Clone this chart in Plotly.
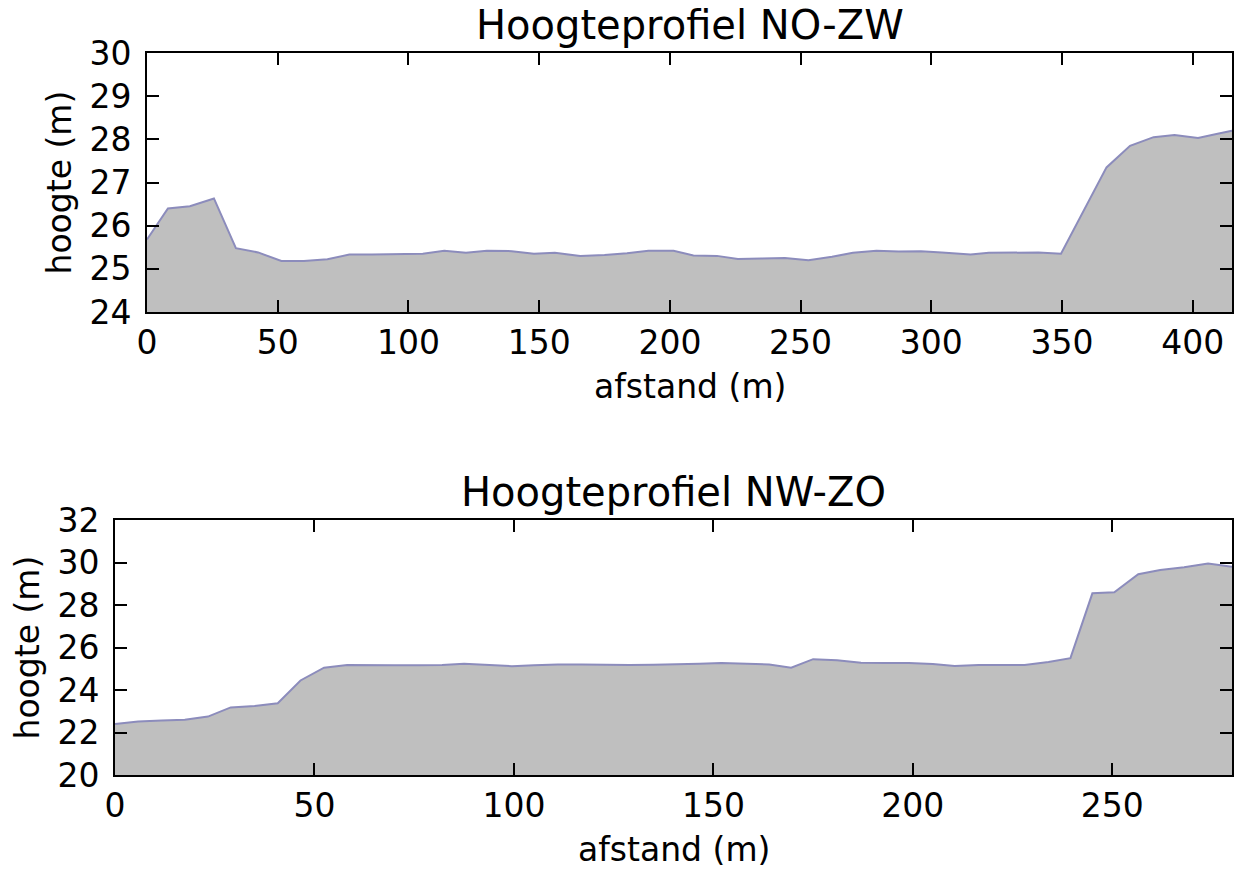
import plotly.graph_objects as go

# Profile NO-ZW (top)
afstand_nozw = [0, 8, 16.4, 25.6, 34, 42.5, 51.4, 60, 69, 77.4, 86, 95, 105.5, 113.7, 122, 130,
                139.5, 148, 156, 165.7, 175, 183.6, 191.8, 201.4, 209, 218, 226, 235, 244, 253,
                262, 270, 279, 287.5, 296, 304, 315, 322, 331, 341, 349.6, 358, 367, 376, 385,
                393, 402, 409.5, 415]
hoogte_nozw = [25.68, 26.4, 26.45, 26.63, 25.48, 25.38, 25.18, 25.18, 25.22, 25.33, 25.33, 25.34,
               25.35, 25.42, 25.37, 25.42, 25.41, 25.35, 25.37, 25.3, 25.32, 25.36, 25.42, 25.42,
               25.31, 25.3, 25.23, 25.24, 25.25, 25.2, 25.28, 25.37, 25.42, 25.4, 25.41, 25.38,
               25.33, 25.37, 25.38, 25.38, 25.35, 26.3, 27.35, 27.85, 28.05, 28.1, 28.03, 28.13, 28.2]

# Profile NW-ZO (bottom)
afstand_nwzo = [0, 5.8, 11.7, 17.5, 23.3, 29, 35, 40.8, 46.5, 52.4, 58.2, 64, 70, 76, 82, 87.5,
                93.5, 99.5, 105, 111, 117, 123, 129, 135, 141, 146.5, 152, 158, 164, 169.5, 175,
                181, 187, 193, 199, 205, 210.5, 216.5, 222, 228, 234, 239.5, 245, 250.5, 256.5,
                262, 268, 274, 280]
hoogte_nwzo = [22.4, 22.52, 22.56, 22.6, 22.75, 23.18, 23.25, 23.38, 24.45, 25.05, 25.18, 25.16,
               25.16, 25.17, 25.18, 25.24, 25.18, 25.12, 25.16, 25.2, 25.2, 25.18, 25.18, 25.19,
               25.2, 25.24, 25.27, 25.22, 25.2, 25.05, 25.45, 25.4, 25.28, 25.27, 25.27, 25.22,
               25.13, 25.18, 25.18, 25.18, 25.32, 25.5, 28.55, 28.6, 29.45, 29.65, 29.78, 29.95, 29.8]

titels = ["Hoogteprofiel NO-ZW", "Hoogteprofiel NW-ZO"]
x_label = "afstand (m)"
y_label = "hoogte (m)"

W, H = 1239, 869
FONT = "DejaVu Sans"
FILL = "#bfbfbf"
EDGE = "#8c8cbc"

fig = go.Figure()
fig.add_trace(go.Scatter(x=afstand_nozw, y=hoogte_nozw, mode="lines", fill="tozeroy",
                         fillcolor=FILL, line=dict(color=EDGE, width=2),
                         xaxis="x", yaxis="y", showlegend=False, hoverinfo="skip"))
fig.add_trace(go.Scatter(x=afstand_nwzo, y=hoogte_nwzo, mode="lines", fill="tozeroy",
                         fillcolor=FILL, line=dict(color=EDGE, width=2),
                         xaxis="x2", yaxis="y2", showlegend=False, hoverinfo="skip"))

def px_x(p):
    return p / W

def px_y(p):
    return 1 - p / H

axis_common = dict(showgrid=False, zeroline=False, showline=True, linecolor="black",
                   linewidth=2, mirror="ticks", ticks="inside", ticklen=12, tickwidth=1.5,
                   tickcolor="black", automargin=False,
                   tickfont=dict(family=FONT, size=33, color="black"))

# geometry (pixels)
top = dict(l=147, r=1232, t=53, b=312)
bot = dict(l=115, r=1232, t=520, b=775)

fig.update_layout(
    width=W, height=H, margin=dict(l=0, r=0, t=0, b=0, pad=0, autoexpand=False),
    paper_bgcolor="white", plot_bgcolor="white",
    xaxis=dict(domain=[px_x(top["l"]), px_x(top["r"])], range=[0, 415], tickvals=list(range(0, 401, 50)),
               anchor="y", **axis_common),
    yaxis=dict(domain=[px_y(top["b"]), px_y(top["t"])], range=[24, 30], tickvals=list(range(24, 31)),
               anchor="x", ticklabelstandoff=7, **axis_common),
    xaxis2=dict(domain=[px_x(bot["l"]), px_x(bot["r"])], range=[0, 280], tickvals=list(range(0, 251, 50)),
                anchor="y2", **axis_common),
    yaxis2=dict(domain=[px_y(bot["b"]), px_y(bot["t"])], range=[20, 32], tickvals=list(range(20, 33, 2)),
                anchor="x2", ticklabelstandoff=7, **axis_common),
)

annots = []
for geo, titel in zip([top, bot], titels):
    cx = (geo["l"] + geo["r"]) / 2
    annots.append(dict(text=titel, x=px_x(cx), y=px_y(geo["t"] - 28), xref="paper", yref="paper",
                       xanchor="center", yanchor="middle", showarrow=False,
                       font=dict(family=FONT, size=40, color="black")))
    annots.append(dict(text=x_label, x=px_x(cx), y=px_y(geo["b"] + 74), xref="paper", yref="paper",
                       xanchor="center", yanchor="middle", showarrow=False,
                       font=dict(family=FONT, size=33, color="black")))
annots.append(dict(text=y_label, x=px_x(59), y=px_y((top["t"] + top["b"]) / 2), xref="paper", yref="paper",
                   xanchor="center", yanchor="middle", showarrow=False, textangle=-90,
                   font=dict(family=FONT, size=33, color="black")))
annots.append(dict(text=y_label, x=px_x(27), y=px_y((bot["t"] + bot["b"]) / 2), xref="paper", yref="paper",
                   xanchor="center", yanchor="middle", showarrow=False, textangle=-90,
                   font=dict(family=FONT, size=33, color="black")))
fig.update_layout(annotations=annots)

fig.write_html("out.html", config={"displayModeBar": False},
               post_script="document.body.style.margin='0';document.body.style.overflow='hidden';")
